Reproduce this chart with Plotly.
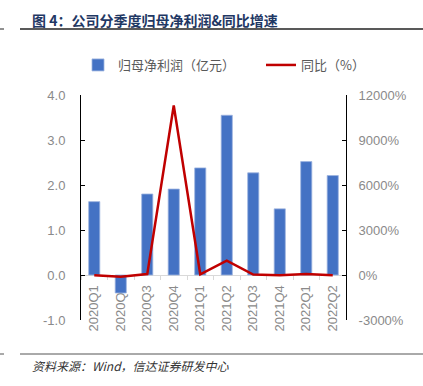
import plotly.graph_objects as go

quarters = ["2020Q1", "2020Q2", "2020Q3", "2020Q4", "2021Q1", "2021Q2",
            "2021Q3", "2021Q4", "2022Q1", "2022Q2"]
profit = [1.63, -0.40, 1.80, 1.91, 2.38, 3.55, 2.27, 1.47, 2.52, 2.21]
yoy = [-10, -120, 60, 11300, 50, 950, 30, -20, 60, -10]

left_ticks = [-1, 0, 1, 2, 3, 4]
left_labels = ["-1.0", "0.0", "1.0", "2.0", "3.0", "4.0"]
right_ticks = [-3000, 0, 3000, 6000, 9000, 12000]
right_labels = ["-3000%", "0%", "3000%", "6000%", "9000%", "12000%"]

W, H = 423, 386
L, R, T, B = 81, 346, 95, 320

def px(x):
    return (x - L) / (R - L)

def py(y):
    return (B - y) / (B - T)

tick_font = dict(family="Liberation Sans, Arial, sans-serif", size=13, color="#8A8A8A")
legend_font = dict(family="Noto Sans CJK SC", size=13, color="#595959")

fig = go.Figure()
fig.add_trace(go.Bar(
    x=quarters, y=profit, name="归母净利润（亿元）",
    marker=dict(color="#4472C4", line=dict(color="#9DB4E0", width=0.8)),
    width=0.42, yaxis="y", legend="legend",
))
fig.add_trace(go.Scatter(
    x=quarters, y=yoy, name="同比（%）", mode="lines",
    line=dict(color="#C00000", width=2.5), yaxis="y2", legend="legend2",
))

fig.update_layout(
    width=W, height=H,
    margin=dict(l=L, r=W - R, t=T, b=H - B, autoexpand=False),
    plot_bgcolor="white", paper_bgcolor="white",
    showlegend=True,
    legend=dict(orientation="h", x=px(78), xanchor="left", y=py(65), yanchor="middle",
                font=legend_font, bgcolor="rgba(0,0,0,0)"),
    legend2=dict(orientation="h", x=px(261), xanchor="left", y=py(65), yanchor="middle",
                 font=legend_font, bgcolor="rgba(0,0,0,0)"),
    xaxis=dict(
        type="category", anchor="free", position=py(275), automargin=False,
        showline=True, linecolor="#D9D9D9", linewidth=1, layer="below traces",
        ticks="outside", ticklen=4, tickcolor="#D9D9D9", tickson="boundaries",
        tickangle=-90, tickfont=tick_font, showgrid=False, zeroline=False,
        ticklabelstandoff=4,
    ),
    yaxis=dict(
        range=[-1, 4], tickmode="array", tickvals=left_ticks, ticktext=left_labels,
        showline=True, linecolor="black", linewidth=1, automargin=False,
        ticks="inside", ticklen=4, tickcolor="black",
        tickfont=tick_font, showgrid=False, zeroline=False,
        ticklabelstandoff=12,
    ),
    yaxis2=dict(
        range=[-3000, 12000], tickmode="array", tickvals=right_ticks, ticktext=right_labels,
        overlaying="y", side="right", automargin=False,
        showline=True, linecolor="black", linewidth=1,
        ticks="inside", ticklen=4, tickcolor="black",
        tickfont=tick_font, showgrid=False, zeroline=False,
        ticklabelstandoff=9,
    ),
    bargap=0.58,
)

# title and source
fig.add_annotation(
    text="<b>图 4：公司分季度归母净利润&同比增速</b>",
    xref="paper", yref="paper", x=px(30), y=py(20), xanchor="left", yanchor="middle",
    showarrow=False, font=dict(family="Noto Sans CJK SC", size=14, color="#1F3864"),
)
fig.add_annotation(
    text="<i>资料来源：Wind，信达证券研发中心</i>",
    xref="paper", yref="paper", x=px(30), y=py(365), xanchor="left", yanchor="middle",
    showarrow=False, font=dict(family="Noto Sans CJK SC", size=12, color="#333333"),
)
fig.add_shape(type="line", xref="paper", yref="paper", x0=px(20), x1=px(423),
              y0=py(29), y1=py(29), line=dict(color="#222222", width=1.5))
fig.add_shape(type="line", xref="paper", yref="paper", x0=px(0), x1=px(4),
              y0=py(29), y1=py(29), line=dict(color="#222222", width=1))
fig.add_shape(type="line", xref="paper", yref="paper", x0=px(20), x1=px(423),
              y0=py(354), y1=py(354), line=dict(color="#555555", width=1))
fig.add_shape(type="line", xref="paper", yref="paper", x0=px(0), x1=px(4),
              y0=py(354), y1=py(354), line=dict(color="#555555", width=1))

fig.write_html("out.html", config={"displayModeBar": False},
               post_script="document.body.style.margin='0px';document.body.style.overflow='hidden';")
